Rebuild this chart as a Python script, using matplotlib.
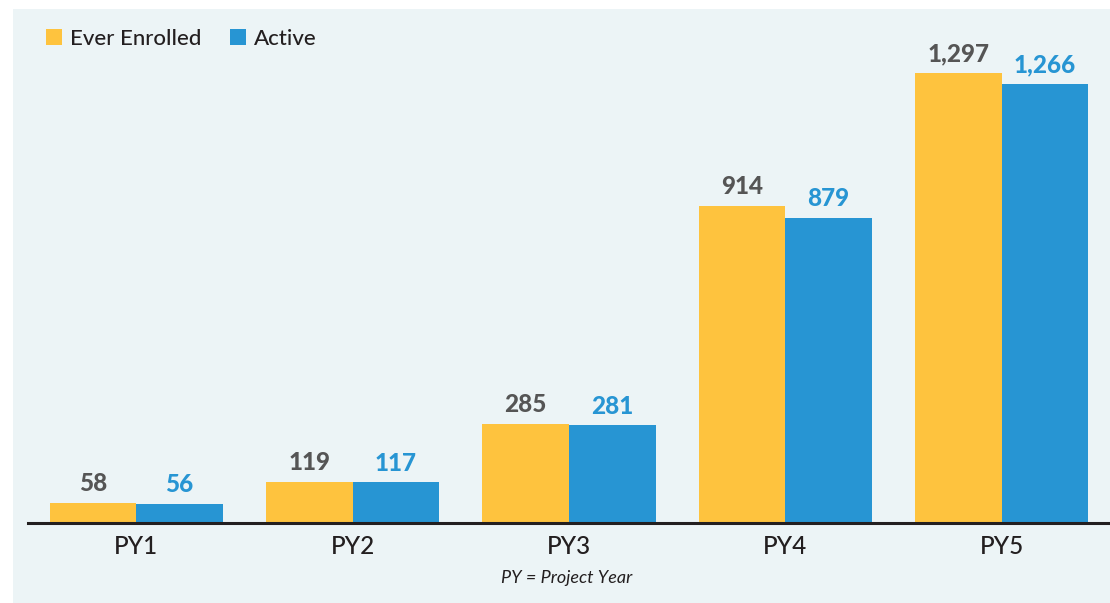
import numpy as np
import matplotlib.pyplot as plt
from matplotlib.patches import Rectangle, Patch

# Data
years = ["PY1", "PY2", "PY3", "PY4", "PY5"]
ever_enrolled = [58, 119, 285, 914, 1297]
active = [56, 117, 281, 879, 1266]

yellow = "#FEC33E"
blue = "#2795D3"
dark = "#231F20"
gray = "#555555"

plt.rcParams['font.family'] = ['Lato', 'DejaVu Sans']

fig = plt.figure(figsize=(11.1, 6.03), dpi=100)
fig.patch.set_facecolor("white")

# light panel behind the chart
fig.patches.append(Rectangle((13 / 1110, 0), 1 - 13 / 1110, 594 / 603,
                             transform=fig.transFigure, facecolor="#ECF4F6",
                             edgecolor="none", zorder=-1))

ax = fig.add_axes([28 / 1110, 80 / 603, 1 - 28 / 1110, 514 / 603])
ax.set_facecolor("none")

x = np.arange(len(years))
w = 0.4
ax.bar(x - w / 2, ever_enrolled, w, color=yellow)
ax.bar(x + w / 2, active, w, color=blue)

# value labels
for xi, v in zip(x, ever_enrolled):
    ax.annotate(f"{v:,}", (xi - w / 2, v), xytext=(0, 5.5), textcoords="offset points",
                ha="center", va="bottom", fontsize=17.5, fontweight="black", color=gray)
for xi, v in zip(x, active):
    ax.annotate(f"{v:,}", (xi + w / 2, v), xytext=(0, 5.5), textcoords="offset points",
                ha="center", va="bottom", fontsize=17.5, fontweight="black", color=blue)

ax.set_xlim(-0.5, 4.5)
ax.set_ylim(0, 1481)
ax.set_xticks(x)
ax.set_xticklabels(years, fontsize=17.5, color=dark, fontweight="medium")
ax.tick_params(axis="x", length=0, pad=9)
ax.set_yticks([])
for s in ["top", "right", "left"]:
    ax.spines[s].set_visible(False)
ax.spines["bottom"].set_linewidth(2.2)
ax.spines["bottom"].set_color(dark)

# footnote
fig.text(567 / 1110, 1 - 578 / 603, "PY = Project Year", ha="center", va="center",
         fontsize=13, style="italic", color=dark)

# legend
handles = [Patch(facecolor=yellow, label="Ever Enrolled"),
           Patch(facecolor=blue, label="Active")]
fig.legend(handles=handles, loc="center left", bbox_to_anchor=(26 / 1110, 1 - 39 / 603),
           ncol=2, frameon=False, handlelength=0.72, handleheight=0.72,
           handletextpad=0.35, columnspacing=1.3, labelcolor=dark,
           prop={"weight": "medium", "size": 16})

fig.savefig("out.png", dpi=100)
